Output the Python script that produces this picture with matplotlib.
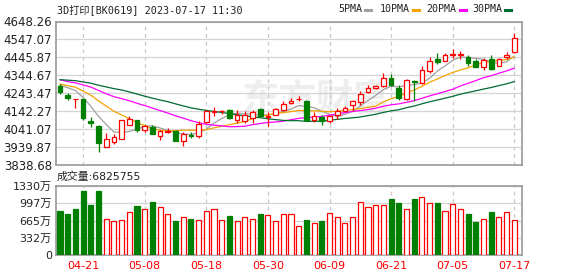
import numpy as np
import pandas as pd
import matplotlib
matplotlib.use("Agg")
import matplotlib.pyplot as plt
from matplotlib.lines import Line2D

plt.rcParams['font.family'] = ['DejaVu Sans', 'Noto Sans CJK SC']

title = "3D打印[BK0619] 2023-07-17 11:30"

# 日K 数据 (04-18 .. 07-17)
open_ = [4285.7, 4235.1, 4210.0, 4212.0, 4088.9, 4060.8, 3941.1, 3970.8, 3986.0, 4064.7,
         4094.5, 4038.3, 4053.5, 4004.6, 4025.4, 4031.0, 3972.5, 4008.5, 4000.6, 4079.3,
         4137.8, 4143.0, 4150.8, 4090.6, 4088.9, 4105.8, 4154.7, 4111.4, 4122.6, 4146.8,
         4188.4, 4210.9, 4201.3, 4094.5, 4109.7, 4088.9, 4122.6, 4145.1, 4178.8, 4191.8,
         4248.0, 4270.5, 4281.7, 4329.0, 4272.7, 4213.0, 4313.8, 4300.9, 4371.7, 4435.8,
         4427.9, 4458.3, 4458.3, 4450.4, 4426.2, 4394.2, 4435.8, 4398.1, 4450.4, 4478.5]
high = [4296.9, 4244.6, 4212.6, 4213.0, 4109.7, 4062.0, 4019.8, 4015.8, 4094.0, 4113.1,
        4095.0, 4066.4, 4064.7, 4038.3, 4047.9, 4038.3, 4023.1, 4023.1, 4085.0, 4146.8,
        4163.7, 4150.8, 4156.0, 4150.8, 4145.0, 4146.8, 4160.3, 4135.6, 4160.3, 4197.4,
        4216.5, 4225.5, 4207.0, 4135.6, 4122.6, 4119.8, 4160.3, 4173.2, 4207.0, 4257.6,
        4291.3, 4291.3, 4357.1, 4351.5, 4291.3, 4325.0, 4316.6, 4399.8, 4447.0, 4472.9,
        4469.5, 4492.0, 4484.1, 4460.0, 4435.8, 4441.4, 4460.0, 4441.4, 4476.8, 4581.9]
low = [4239.0, 4207.0, 4160.3, 4094.5, 4051.2, 3910.7, 3941.0, 3955.7, 3985.0, 4064.7,
       4023.1, 4023.1, 4013.0, 3982.1, 4021.0, 3974.0, 3948.3, 3989.4, 3989.4, 4077.6,
       4117.0, 4128.3, 4100.0, 4076.0, 4077.6, 4076.0, 4108.6, 4060.8, 4119.8, 4145.0,
       4184.5, 4197.4, 4088.9, 4079.3, 4066.4, 4077.6, 4098.5, 4142.3, 4141.2, 4178.9,
       4246.0, 4268.7, 4280.0, 4285.7, 4207.0, 4208.0, 4201.3, 4296.9, 4360.5, 4409.4,
       4426.0, 4441.4, 4435.8, 4398.1, 4392.0, 4375.6, 4375.6, 4395.0, 4435.8, 4469.5]
close = [4248.0, 4216.5, 4210.0, 4101.8, 4076.0, 3963.5, 3986.0, 3997.3, 4092.8, 4098.5,
         4038.3, 4056.9, 4014.1, 4028.8, 4032.7, 3976.5, 4015.8, 4000.6, 4072.0, 4141.2,
         4145.1, 4144.5, 4104.1, 4122.6, 4119.8, 4137.8, 4113.1, 4115.3, 4154.7, 4184.5,
         4201.3, 4213.7, 4090.6, 4117.0, 4085.0, 4117.0, 4145.1, 4162.0, 4197.4, 4239.0,
         4270.5, 4285.7, 4329.0, 4291.3, 4218.2, 4318.0, 4304.2, 4375.6, 4424.5, 4422.3,
         4460.0, 4465.6, 4465.6, 4416.7, 4394.2, 4431.9, 4381.2, 4435.8, 4461.6, 4553.9]
# 图表之前的收盘价, 用于均线
pre_close = [4309, 4295, 4318, 4286, 4304, 4275, 4292, 4313, 4430, 4401, 4418, 4349,
             4336, 4320, 4344, 4358, 4331, 4309, 4339, 4326, 4312, 4296, 4318, 4305,
             4290, 4276, 4292, 4301, 4318]
# 成交量 (万)
volume = [848, 790, 887, 1234, 964, 1234, 687, 655, 668, 829,
          944, 887, 1022, 919, 784, 655, 726, 694, 675, 842,
          880, 668, 752, 655, 726, 687, 790, 765, 655, 784,
          784, 553, 675, 610, 655, 803, 726, 610, 726, 1015,
          919, 957, 957, 1079, 1002, 880, 1079, 1112, 996, 1002,
          848, 977, 880, 790, 636, 687, 829, 726, 829, 682.5755]

date_labels = ['04-21', '05-08', '05-18', '05-30', '06-09', '06-21', '07-05', '07-17']
price_ticks = [3838.68, 3939.87, 4041.07, 4142.27, 4243.47, 4344.67, 4445.87, 4547.07, 4648.26]
vol_ticks = [0, 332.5, 665, 997.5, 1330]
vol_labels = ['0', '332万', '665万', '997万', '1330万']
ma_periods = [5, 10, 20, 30]
ma_colors = ['#a0a0a0', '#f5a300', '#ff00ff', '#006b35']

RED, GREEN = '#ff0000', '#008000'
FRAME = '#9a9a9a'

W, H = 578, 276
fig = plt.figure(figsize=(W / 100, H / 100), dpi=100)


def px_axes(x0, y0, x1, y1):
    return fig.add_axes([x0 / W, 1 - y1 / H, (x1 - x0) / W, (y1 - y0) / H])


ax = px_axes(56, 21.5, 522, 165)
axv = px_axes(56, 186, 522, 255)

o = np.array(open_)
c = np.array(close)
hi_ = np.array(high)
lo_ = np.array(low)
n = len(c)
x = np.arange(n)
tick_pos = list(range(n - 1, -1, -8))[::-1]

# 均线
all_close = pd.Series(pre_close + close, dtype=float)
for p, col in zip(ma_periods, ma_colors):
    ma = all_close.rolling(p).mean().values[-n:]
    ax.plot(x, ma, color=col, lw=0.9, zorder=3)

# K线
up = c >= o
for i in range(n):
    col = RED if up[i] else GREEN
    b0, b1 = min(o[i], c[i]), max(o[i], c[i])
    ax.vlines(i, lo_[i], b0, color=col, lw=0.9, zorder=4)
    ax.vlines(i, b1, hi_[i], color=col, lw=0.9, zorder=4)
    ax.bar(i, max(b1 - b0, 1.0), bottom=b0, width=0.62,
           facecolor='white' if up[i] else col, edgecolor=col, lw=0.9, zorder=5)

ax.text(0.56, 0.45, "东方财富", transform=ax.transAxes, fontsize=27,
        color='#eeeeee', ha='center', va='center', fontweight='bold',
        family='Noto Sans CJK SC', zorder=0)

ax.set_xlim(-0.52, n)
ax.set_ylim(price_ticks[0], price_ticks[-1])
ax.set_yticks(price_ticks)
ax.set_yticklabels([f"{v:.2f}" for v in price_ticks])
ax.set_xticks(tick_pos)
ax.tick_params(axis='x', length=0, labelbottom=False)
ax.tick_params(axis='y', length=0, pad=3, labelsize=8.5, labelcolor='#222222')
ax.yaxis.grid(True, color='#d4d4d4', lw=0.9, zorder=0)
ax.xaxis.grid(True, color='#c8c8c8', lw=0.9, ls=(0, (3, 3)), zorder=0)
ax.set_axisbelow(True)

# 成交量
prev = np.concatenate([[pre_close[-1]], c[:-1]])
vol_up = (c > o) | ((c == o) & (c >= prev))
for i in range(n):
    col = RED if vol_up[i] else GREEN
    axv.bar(i, volume[i], width=0.66, facecolor='white' if vol_up[i] else col,
            edgecolor=col, lw=0.9, zorder=3)
axv.set_xlim(-0.52, n)
axv.set_ylim(0, vol_ticks[-1])
axv.set_yticks(vol_ticks)
axv.set_yticklabels(vol_labels)
axv.set_xticks(tick_pos)
axv.set_xticklabels(date_labels)
axv.tick_params(axis='x', length=0, pad=4, labelsize=8, labelcolor=RED)
axv.tick_params(axis='y', length=0, pad=3, labelsize=8, labelcolor='#222222')
axv.yaxis.grid(True, color='#d4d4d4', lw=0.9, zorder=0)
axv.xaxis.grid(True, color='#c8c8c8', lw=0.9, ls=(0, (3, 3)), zorder=0)
axv.set_axisbelow(True)

for a in (ax, axv):
    for s in a.spines.values():
        s.set_color(FRAME)
        s.set_linewidth(1.2)

# 标题和图例
fig.text(57 / W, 1 - 9.5 / H, title, fontsize=7.3, va='center', color='#222222',
         family=['DejaVu Sans Mono', 'Noto Sans CJK SC'])
leg_x = [338, 380, 426, 472]
dash_x = [365, 413, 460, 505]
for k, (p, col) in enumerate(zip(ma_periods, ma_colors)):
    fig.text(leg_x[k] / W, 1 - 9.5 / H, f"{p}PMA", fontsize=7.2, va='center',
             color='#222222', family='DejaVu Sans Mono')
    fig.add_artist(Line2D([dash_x[k] / W, (dash_x[k] + 6) / W], [1 - 9.5 / H] * 2,
                          color=col, lw=2.2))

fig.text(57 / W, 1 - 177 / H, f"成交量:{int(round(volume[-1] * 1e4))}", fontsize=7.8,
         va='center', color='#222222')

fig.savefig("out.png", dpi=100)
